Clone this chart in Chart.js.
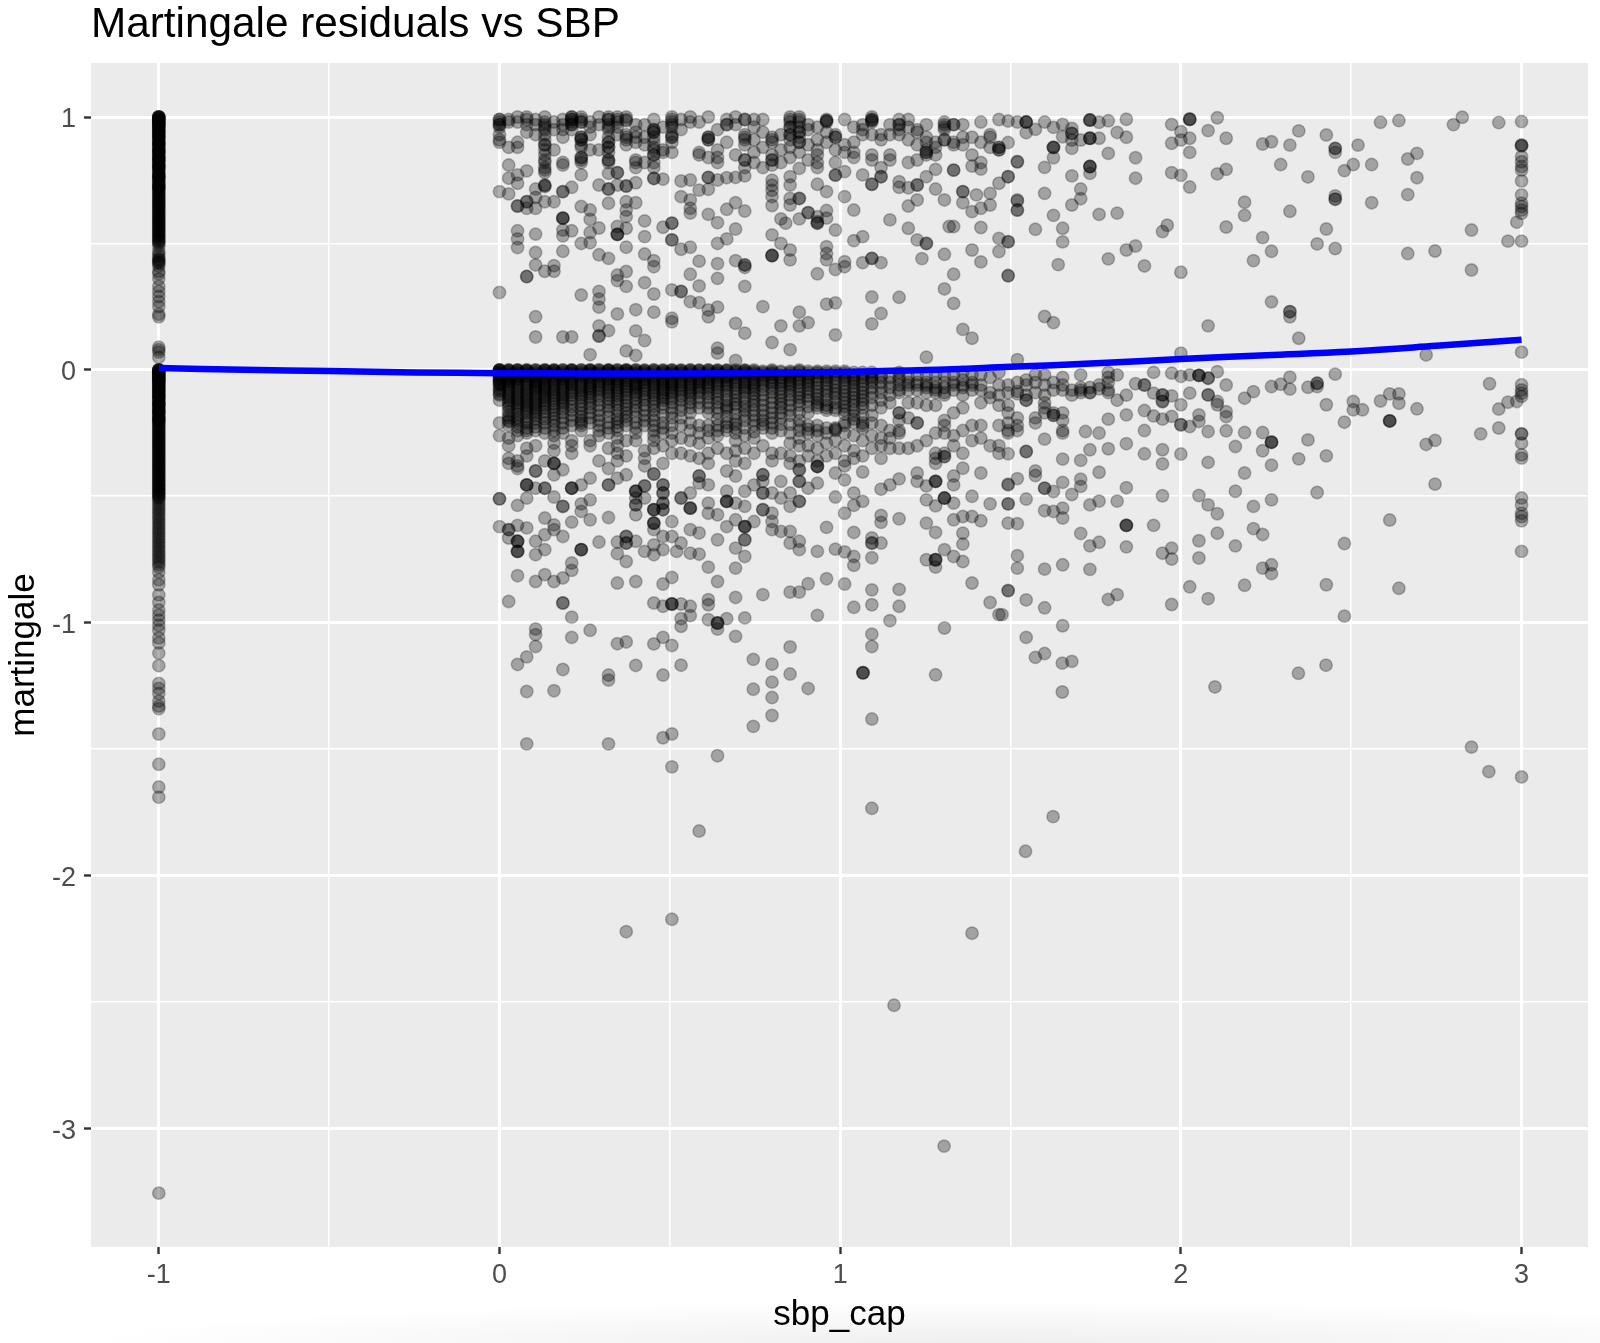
<!DOCTYPE html>
<html>
<head>
<meta charset="utf-8">
<title>Martingale residuals vs SBP</title>
<script src="https://cdn.jsdelivr.net/npm/chart.js@4/dist/chart.umd.min.js"></script>
<style>
  html, body { margin: 0; padding: 0; background: #fff; }
  body { height: 1343px; background: radial-gradient(ellipse 900px 42px at 980px 1343px, #efefef, #ffffff); }
  canvas { display: block; }
</style>
</head>
<body>
<canvas id="chart" width="1600" height="1343"></canvas>
<script>
// ── AXES ──────────────────────────────────────────────────
const xMajor = [-1, 0, 1, 2, 3];
const xMinor = [-0.5, 0.5, 1.5, 2.5];
const yMajor = [-3, -2, -1, 0, 1];
const yMinor = [-2.5, -1.5, -0.5, 0.5];

// ── SMOOTH LINE ───────────────────────────────────────────
const smoothX = [-1, -0.75, -0.5, -0.25, 0, 0.25, 0.5, 0.75, 1, 1.25, 1.5, 1.75, 2, 2.25, 2.5, 2.75, 3];
const smoothY = [0.007, 0, -0.005, -0.01, -0.013, -0.014, -0.014, -0.012, -0.008, -0.001, 0.012, 0.026, 0.043, 0.058, 0.073, 0.095, 0.119];

// ── COLUMN AT sbp_cap = -1 ────────────────────────────────
const capUpper = [1, 1, 1, 0.995, 0.99, 0.985, 0.98, 0.975, 0.97, 0.965, 0.96, 0.95, 0.945, 0.94, 0.93, 0.925, 0.92, 0.91, 0.9, 0.895, 0.89, 0.88, 0.87, 0.865, 0.86, 0.85, 0.84, 0.835, 0.83, 0.82, 0.81, 0.805, 0.8, 0.79, 0.78, 0.77, 0.765, 0.76, 0.75, 0.74, 0.73, 0.725, 0.72, 0.71, 0.7, 0.69, 0.68, 0.67, 0.66, 0.65, 0.64, 0.63, 0.62, 0.61, 0.6, 0.59, 0.58, 0.57, 0.56, 0.55, 0.54, 0.53, 0.52, 0.51, 0.5, 0.49, 0.47, 0.45, 0.44, 0.43, 0.42, 0.41, 0.39, 0.38, 0.36, 0.33, 0.31, 0.29, 0.27, 0.25, 0.22, 0.21, 0.09, 0.08, 0.07, 0.05];
const capUpperTies = [1, 0.998, 0.992, 0.987, 0.982, 0.977, 0.972, 0.967, 0.962, 0.955, 0.948, 0.942, 0.935, 0.928, 0.922, 0.915, 0.905, 0.898, 0.892, 0.885, 0.875, 0.868, 0.862, 0.855, 0.845, 0.838, 0.832, 0.825, 0.815, 0.808, 0.802, 0.795, 0.785, 0.775, 0.768, 0.762, 0.755, 0.745, 0.735, 0.727, 0.722, 0.715, 0.705, 0.695, 0.685, 0.675, 0.665, 0.655, 0.645, 0.635, 0.625, 0.615, 0.605, 0.595, 0.585, 0.575, 0.565, 0.555, 0.545, 0.535, 0.525, 0.515, 0.505, 0.46, 0.435, 0.425];
const capLower = [0, 0, 0, -0.005, -0.01, -0.015, -0.02, -0.025, -0.03, -0.035, -0.04, -0.045, -0.05, -0.06, -0.065, -0.07, -0.08, -0.085, -0.09, -0.1, -0.105, -0.11, -0.12, -0.13, -0.135, -0.14, -0.15, -0.16, -0.165, -0.17, -0.18, -0.19, -0.195, -0.2, -0.21, -0.22, -0.23, -0.24, -0.25, -0.26, -0.27, -0.28, -0.29, -0.3, -0.31, -0.32, -0.33, -0.34, -0.35, -0.36, -0.37, -0.38, -0.39, -0.4, -0.41, -0.42, -0.43, -0.44, -0.45, -0.46, -0.47, -0.48, -0.49, -0.5, -0.51, -0.53, -0.55, -0.57, -0.59, -0.6, -0.62, -0.64, -0.66, -0.67, -0.69, -0.7, -0.72, -0.74, -0.76, -0.78, -0.8, -0.83, -0.85, -0.89, -0.92, -0.95, -0.97, -0.99, -1.01, -1.03, -1.06, -1.08, -1.12, -1.17, -1.24, -1.26, -1.28, -1.31, -1.33, -1.34, -1.44, -1.56, -1.65, -1.69, -3.256];
const capLowerTies = [0, -0.003, -0.008, -0.012, -0.018, -0.023, -0.028, -0.033, -0.038, -0.043, -0.048, -0.055, -0.062, -0.068, -0.075, -0.082, -0.088, -0.095, -0.102, -0.108, -0.115, -0.125, -0.132, -0.138, -0.145, -0.155, -0.162, -0.168, -0.175, -0.185, -0.192, -0.198, -0.205, -0.215, -0.225, -0.235, -0.245, -0.255, -0.265, -0.275, -0.285, -0.295, -0.305, -0.315, -0.325, -0.335, -0.345, -0.355, -0.365, -0.375, -0.385, -0.395, -0.405, -0.415, -0.425, -0.435, -0.445, -0.455, -0.465, -0.475, -0.485, -0.495, -0.505, -0.52, -0.54, -0.56, -0.58, -0.61, -0.63, -0.65, -0.68, -0.71, -0.73, -0.75, -0.77];

// ── COLUMN AT sbp_cap = 3 ─────────────────────────────────
const maxColumn = [0.982, 0.889, 0.889, 0.885, 0.843, 0.823, 0.804, 0.79, 0.747, 0.692, 0.659, 0.646, 0.632, 0.619, 0.509, 0.07, -0.059, -0.079, -0.092, -0.105, -0.253, -0.253, -0.29, -0.336, -0.349, -0.507, -0.534, -0.567, -0.58, -0.597, -0.718, -1.61];

// ── DENSE BAND JUST BELOW ZERO, BY COLUMN ─────────────────
const bandX = [0, 0.027, 0.053, 0.08, 0.106, 0.133, 0.16, 0.186, 0.212, 0.24, 0.266, 0.292, 0.32, 0.346, 0.372, 0.4, 0.426, 0.453, 0.48, 0.506, 0.533, 0.56, 0.586, 0.613, 0.64, 0.667, 0.693, 0.72, 0.747, 0.773, 0.8, 0.826, 0.853, 0.88, 0.906, 0.933, 0.96, 0.986, 1.013, 1.04, 1.066];
const bandY = [
  [0, 0, 0, -0.005, -0.01, -0.015, -0.02, -0.03, -0.04, -0.05, -0.06, -0.07, -0.085, -0.1, -0.12, -0.21, -0.26],
  [0, 0, -0.005, -0.01, -0.02, -0.03, -0.04, -0.05, -0.07, -0.09, -0.11, -0.13, -0.15, -0.18, -0.2, -0.27, -0.3, -0.35, -0.37],
  [0, 0, -0.005, -0.01, -0.02, -0.03, -0.04, -0.06, -0.08, -0.1, -0.12, -0.14, -0.16, -0.19, -0.21, -0.24, -0.26, -0.36, -0.38, -0.39],
  [0, 0, -0.005, -0.01, -0.02, -0.03, -0.05, -0.07, -0.09, -0.11, -0.13, -0.15, -0.17, -0.2, -0.23, -0.25, -0.31, -0.34],
  [0, 0, -0.01, -0.015, -0.025, -0.04, -0.05, -0.065, -0.08, -0.1, -0.12, -0.14, -0.16, -0.18, -0.21, -0.24, -0.3],
  [0, 0, -0.005, -0.015, -0.03, -0.04, -0.06, -0.075, -0.09, -0.11, -0.13, -0.15, -0.18, -0.21, -0.25, -0.36],
  [0, 0, -0.005, -0.01, -0.02, -0.035, -0.05, -0.07, -0.09, -0.11, -0.135, -0.16, -0.19, -0.22, -0.26, -0.29, -0.32],
  [0, 0, -0.01, -0.02, -0.03, -0.04, -0.06, -0.08, -0.1, -0.12, -0.14, -0.17, -0.21, -0.25],
  [0, 0, -0.005, -0.015, -0.03, -0.045, -0.06, -0.08, -0.1, -0.13, -0.16, -0.2, -0.28, -0.3, -0.33],
  [0, 0, -0.01, -0.02, -0.03, -0.05, -0.07, -0.09, -0.11, -0.14, -0.17, -0.2, -0.22, -0.24],
  [0, 0, -0.005, -0.015, -0.025, -0.04, -0.06, -0.075, -0.095, -0.12, -0.15, -0.19, -0.28, -0.3],
  [0, 0, -0.01, -0.02, -0.03, -0.05, -0.07, -0.09, -0.12, -0.16, -0.2, -0.24, -0.36],
  [0, 0, -0.005, -0.015, -0.03, -0.04, -0.06, -0.08, -0.1, -0.13, -0.16, -0.21, -0.25, -0.31, -0.39],
  [0, 0, -0.01, -0.02, -0.035, -0.05, -0.07, -0.09, -0.115, -0.14, -0.18, -0.21, -0.24, -0.27, -0.3, -0.33, -0.36],
  [0, 0, -0.005, -0.015, -0.03, -0.045, -0.065, -0.085, -0.11, -0.14, -0.17, -0.2, -0.28, -0.34],
  [0, 0, -0.01, -0.02, -0.03, -0.05, -0.065, -0.08, -0.1, -0.13, -0.16, -0.21, -0.25, -0.28],
  [0, -0.005, -0.01, -0.02, -0.035, -0.05, -0.07, -0.095, -0.12, -0.16, -0.2, -0.32, -0.35, -0.38],
  [0, 0, -0.01, -0.025, -0.04, -0.06, -0.08, -0.1, -0.13, -0.16, -0.2, -0.24, -0.28, -0.31],
  [0, -0.005, -0.015, -0.03, -0.045, -0.06, -0.08, -0.1, -0.12, -0.15, -0.21, -0.25, -0.3, -0.37],
  [0, 0, -0.01, -0.02, -0.04, -0.055, -0.07, -0.09, -0.115, -0.15, -0.19, -0.25, -0.28, -0.33],
  [0, -0.005, -0.015, -0.03, -0.05, -0.07, -0.09, -0.12, -0.16, -0.22, -0.27, -0.33],
  [0, 0, -0.01, -0.025, -0.04, -0.06, -0.08, -0.1, -0.13, -0.17, -0.24, -0.28, -0.34],
  [0, -0.005, -0.02, -0.035, -0.05, -0.07, -0.09, -0.13, -0.22, -0.25, -0.29, -0.35],
  [0, 0, -0.01, -0.025, -0.04, -0.06, -0.08, -0.11, -0.15, -0.22, -0.24, -0.27, -0.33, -0.37],
  [0, -0.005, -0.015, -0.03, -0.05, -0.07, -0.1, -0.13, -0.17, -0.22, -0.26, -0.31],
  [0, -0.005, -0.02, -0.03, -0.05, -0.07, -0.1, -0.14, -0.16, -0.21, -0.24, -0.33, -0.4],
  [0, -0.01, -0.02, -0.04, -0.06, -0.09, -0.12, -0.15, -0.2, -0.23, -0.28, -0.32, -0.36],
  [0, -0.005, -0.015, -0.03, -0.05, -0.07, -0.09, -0.13, -0.16, -0.2, -0.26, -0.31, -0.37],
  [0, -0.01, -0.02, -0.04, -0.06, -0.08, -0.11, -0.14, -0.18, -0.22, -0.27, -0.33],
  [-0.005, -0.015, -0.03, -0.05, -0.08, -0.12, -0.16, -0.2, -0.23, -0.3],
  [0, -0.01, -0.02, -0.04, -0.06, -0.09, -0.13, -0.17, -0.21, -0.25, -0.33, -0.36],
  [-0.005, -0.02, -0.04, -0.06, -0.09, -0.12, -0.15, -0.19, -0.24, -0.33],
  [-0.005, -0.015, -0.03, -0.05, -0.07, -0.1, -0.14, -0.18, -0.25, -0.29, -0.34],
  [0, -0.01, -0.03, -0.05, -0.08, -0.11, -0.14, -0.2, -0.24, -0.27, -0.3, -0.36],
  [-0.005, -0.02, -0.04, -0.06, -0.09, -0.12, -0.17, -0.22, -0.25, -0.3, -0.34],
  [-0.005, -0.015, -0.04, -0.07, -0.1, -0.13, -0.15, -0.22, -0.26, -0.31, -0.36],
  [-0.005, -0.02, -0.04, -0.07, -0.1, -0.14, -0.16, -0.25, -0.29, -0.34],
  [-0.005, -0.02, -0.05, -0.08, -0.11, -0.15, -0.23, -0.24, -0.28, -0.33],
  [-0.005, -0.02, -0.04, -0.07, -0.1, -0.13, -0.16, -0.22, -0.25, -0.3, -0.36, -0.38],
  [-0.01, -0.03, -0.05, -0.08, -0.11, -0.14, -0.18, -0.21, -0.26, -0.32, -0.35],
  [-0.01, -0.03, -0.06, -0.09, -0.12, -0.15, -0.21, -0.23, -0.28, -0.34]
];
// ties inside the black part of the band, same columns as bandX
const bandTies = [
  [-0.002, -0.012, -0.025, -0.035, -0.045, -0.055, -0.078, -0.095],
  [-0.003, -0.015, -0.025, -0.035, -0.045, -0.06, -0.08, -0.1, -0.12, -0.14, -0.165, -0.19, -0.205, -0.22],
  [-0.002, -0.015, -0.025, -0.035, -0.05, -0.07, -0.09, -0.11, -0.13, -0.15, -0.175, -0.2, -0.225],
  [-0.003, -0.015, -0.025, -0.04, -0.06, -0.08, -0.1, -0.12, -0.14, -0.16, -0.185, -0.21, -0.24],
  [-0.005, -0.02, -0.03, -0.045, -0.058, -0.072, -0.09, -0.11, -0.13, -0.15, -0.17, -0.195, -0.225],
  [-0.002, -0.01, -0.022, -0.035, -0.05, -0.068, -0.083, -0.1, -0.12, -0.14, -0.165, -0.195, -0.23],
  [-0.003, -0.015, -0.028, -0.042, -0.06, -0.08, -0.1, -0.122, -0.148, -0.175, -0.205, -0.24],
  [-0.005, -0.015, -0.025, -0.035, -0.05, -0.07, -0.09, -0.11, -0.13, -0.155, -0.19, -0.23],
  [-0.002, -0.01, -0.022, -0.038, -0.052, -0.07, -0.09, -0.115, -0.145, -0.18, -0.22],
  [-0.005, -0.015, -0.025, -0.04, -0.06, -0.08, -0.1, -0.125, -0.155, -0.185, -0.21],
  [-0.002, -0.01, -0.02, -0.032, -0.05, -0.068, -0.085, -0.108, -0.135, -0.17, -0.21],
  [-0.005, -0.015, -0.025, -0.04, -0.06, -0.08, -0.105, -0.14, -0.18, -0.22, -0.26],
  [-0.002, -0.01, -0.022, -0.035, -0.05, -0.07, -0.09, -0.115, -0.145, -0.185, -0.23],
  [-0.005, -0.015, -0.028, -0.042, -0.06, -0.08, -0.102, -0.128, -0.16, -0.195, -0.225],
  [-0.002, -0.01, -0.022, -0.038, -0.055, -0.075, -0.098, -0.125, -0.155, -0.185, -0.22],
  [-0.005, -0.015, -0.025, -0.04, -0.058, -0.072, -0.09, -0.115, -0.145, -0.185, -0.23],
  [-0.002, -0.015, -0.028, -0.042, -0.06, -0.082, -0.108, -0.14, -0.18, -0.22],
  [-0.005, -0.018, -0.032, -0.05, -0.07, -0.09, -0.115, -0.145, -0.18, -0.22, -0.26],
  [-0.002, -0.01, -0.022, -0.038, -0.052, -0.07, -0.09, -0.11, -0.135, -0.18, -0.23],
  [-0.005, -0.015, -0.03, -0.048, -0.062, -0.08, -0.102, -0.13, -0.17, -0.22],
  [-0.002, -0.01, -0.022, -0.04, -0.06, -0.08, -0.105, -0.14, -0.19],
  [-0.005, -0.018, -0.032, -0.05, -0.07, -0.09, -0.115, -0.15, -0.21],
  [-0.002, -0.012, -0.028, -0.042, -0.06, -0.08, -0.11, -0.15],
  [-0.005, -0.018, -0.032, -0.05, -0.07, -0.095, -0.13, -0.17],
  [-0.002, -0.01, -0.022, -0.04, -0.06, -0.085, -0.115, -0.15, -0.195, -0.24],
  [-0.002, -0.012, -0.025, -0.04, -0.06, -0.085, -0.12, -0.15, -0.185, -0.225],
  [-0.005, -0.015, -0.03, -0.05, -0.075, -0.105, -0.135, -0.175, -0.215, -0.25],
  [-0.002, -0.01, -0.022, -0.04, -0.06, -0.08, -0.11, -0.145, -0.18, -0.23],
  [-0.005, -0.015, -0.03, -0.05, -0.07, -0.095, -0.125, -0.16, -0.2, -0.245],
  [-0.01, -0.022, -0.04, -0.065, -0.1, -0.14, -0.18, -0.215],
  [-0.005, -0.015, -0.03, -0.05, -0.075, -0.11, -0.15, -0.19, -0.23],
  [-0.01, -0.03, -0.05, -0.075, -0.105, -0.135, -0.17, -0.215],
  [-0.01, -0.022, -0.04, -0.06, -0.085, -0.12, -0.16, -0.215],
  [-0.005, -0.02, -0.04, -0.065, -0.095, -0.125, -0.17, -0.22],
  [-0.012, -0.03, -0.05, -0.075, -0.105, -0.145, -0.235],
  [-0.01, -0.028, -0.055, -0.085, -0.115, -0.14, -0.24],
  [-0.012, -0.03, -0.055, -0.085, -0.12, -0.15, -0.23],
  [-0.012, -0.035, -0.065, -0.095, -0.13, -0.16, -0.235],
  [-0.012, -0.03, -0.055, -0.085, -0.115, -0.145, -0.175, -0.21],
  [-0.02, -0.04, -0.065, -0.095, -0.125, -0.16, -0.195],
  [-0.02, -0.045, -0.075, -0.105, -0.135, -0.18, -0.22]
];

// ── TOP BAND NEAR +1, BY COLUMN ───────────────────────────
const topX = [0, 0.027, 0.053, 0.08, 0.106, 0.133, 0.16, 0.186, 0.212, 0.24, 0.266, 0.292, 0.32, 0.346, 0.372, 0.4, 0.426, 0.453, 0.48, 0.506, 0.533, 0.56, 0.586, 0.613, 0.64, 0.667, 0.693, 0.72, 0.747, 0.773, 0.8, 0.826, 0.853, 0.88, 0.906, 0.933, 0.96, 0.986, 1.013, 1.04, 1.066, 1.093, 1.12, 1.146, 1.173, 1.2, 1.226, 1.253, 1.28, 1.306, 1.333, 1.36, 1.387, 1.413, 1.44, 1.466];
const topY = [
  [0.99, 0.98, 0.97, 0.96, 0.93, 0.91, 0.9],
  [0.99, 0.98, 0.88],
  [1, 0.98, 0.9, 0.88],
  [1, 0.97, 0.94],
  [0.99, 0.97, 0.93],
  [1, 0.98, 0.96, 0.93, 0.91, 0.89, 0.87, 0.85, 0.83, 0.8, 0.78, 0.73, 0.725],
  [0.98, 0.95, 0.87],
  [0.99, 0.97, 0.95, 0.92, 0.82, 0.81],
  [1, 0.99, 0.98, 0.97, 0.95],
  [1, 0.98, 0.92, 0.91, 0.89, 0.88, 0.84, 0.83, 0.82],
  [0.98, 0.96, 0.93, 0.87],
  [1, 0.97, 0.87],
  [1, 0.99, 0.97, 0.95, 0.92, 0.9, 0.88, 0.86, 0.83, 0.82],
  [1, 0.98, 0.96, 0.93],
  [1, 0.985, 0.93, 0.91, 0.89],
  [0.97, 0.94, 0.92, 0.9, 0.83, 0.82, 0.8],
  [0.97, 0.92, 0.89, 0.82],
  [0.99, 0.95, 0.94, 0.92, 0.9, 0.87, 0.85, 0.82, 0.8],
  [0.96, 0.87, 0.86],
  [1, 0.98, 0.96, 0.93, 0.92, 0.9, 0.86],
  [0.99, 0.95],
  [1, 0.98],
  [0.98, 0.86, 0.85],
  [1, 0.92, 0.91, 0.84],
  [0.95, 0.87, 0.84, 0.82],
  [0.99, 0.97, 0.9],
  [1, 0.97, 0.85],
  [0.99, 0.93, 0.91, 0.89, 0.83, 0.8],
  [0.99, 0.96, 0.91, 0.86, 0.82],
  [0.99, 0.94, 0.88, 0.8],
  [0.92, 0.9, 0.85, 0.83, 0.81],
  [0.93, 0.87, 0.82],
  [1, 0.98, 0.96, 0.93, 0.91, 0.88, 0.84],
  [1, 0.98, 0.96, 0.94, 0.92, 0.9, 0.86],
  [0.97, 0.95, 0.89, 0.83],
  [0.96, 0.91, 0.87, 0.85, 0.82, 0.8],
  [0.99, 0.98, 0.94, 0.9],
  [0.93, 0.92, 0.87, 0.82],
  [0.99, 0.89, 0.86],
  [0.96, 0.9, 0.86, 0.84],
  [0.97, 0.95, 0.93],
  [1, 0.99, 0.98, 0.93, 0.85, 0.83],
  [0.93, 0.91, 0.8],
  [0.97, 0.93, 0.85, 0.83],
  [0.97, 0.95, 0.93],
  [0.99, 0.96, 0.91, 0.82],
  [0.94, 0.89, 0.83],
  [0.97, 0.92, 0.9, 0.86, 0.85],
  [0.9, 0.88, 0.85],
  [0.98, 0.96, 0.91],
  [0.97, 0.9, 0.89, 0.79],
  [0.97, 0.92, 0.89],
  [0.92, 0.85],
  [0.98, 0.9, 0.82],
  [0.92, 0.93, 0.88],
  [0.99, 0.88, 0.87]
];
// darker spots in the top band, where several points coincide
const topTies = [[0,0.99],[0,0.97],[0.133,0.97],[0.133,0.95],[0.133,0.89],[0.133,0.82],[0.133,0.79],[0.133,0.73],[0.08,0.99],[0.212,0.99],[0.212,0.97],[0.212,1],[0.24,0.99],[0.24,0.98],[0.24,0.91],[0.24,0.92],[0.24,0.84],[0.32,0.99],[0.32,0.96],[0.32,0.9],[0.32,0.88],[0.32,0.83],[0.346,0.99],[0.372,0.99],[0.372,0.92],[0.453,0.95],[0.453,0.94],[0.453,0.88],[0.453,0.85],[0.506,0.99],[0.506,0.97],[0.506,0.92],[0.613,0.92],[0.613,0.91],[0.667,0.97],[0.72,0.99],[0.72,0.92],[0.72,0.83],[0.8,0.91],[0.8,0.83],[0.853,0.99],[0.853,0.96],[0.853,0.93],[0.88,0.99],[0.88,0.94],[0.88,0.9],[0.96,0.985],[0.96,0.985],[0.986,0.92],[1.093,0.99],[1.093,0.985],[1.173,0.97],[1.173,0.99],[1.253,0.87],[1.253,0.86],[1.226,0.95],[1.306,0.97],[1.306,0.95],[1.306,0.91],[1.333,0.97],[1.466,0.88],[1.466,0.87]];

// ── UPPER SCATTER, 0 < residual < 0.8 ─────────────────────
const upperLeft = [[0.266,0.06],[0.372,0.075],[0.4,0.057],[0.64,0.086],[0.64,0.066],[0.693,0.037],[0.106,0.13],[0.186,0.13],[0.212,0.13],[0.292,0.134],[0.292,0.174],[0.292,0.134],[0.32,0.155],[0.4,0.154],[0.426,0.116],[0.693,0.184],[0.72,0.145],[0.8,0.108],[0.853,0.08],[0.826,0.174],[0.88,0.174],[0.88,0.228],[0.906,0.187],[0.986,0.138],[0.106,0.21],[0.346,0.221],[0.4,0.238],[0.453,0.228],[0.506,0.204],[0.506,0.19],[0.613,0.21],[0.613,0.237],[0.64,0.248],[0.586,0.266],[0.56,0.27],[0.773,0.25],[0.96,0.26],[0.986,0.265],[0,0.306],[0.24,0.296],[0.292,0.31],[0.292,0.28],[0.292,0.248],[0.453,0.3],[0.506,0.316],[0.533,0.31],[0.533,0.31],[0.426,0.345],[0.372,0.33],[0.346,0.353],[0.346,0.375],[0.372,0.389],[0.56,0.378],[0.586,0.332],[0.64,0.362],[0.72,0.33],[0.08,0.369],[0.08,0.369],[0.133,0.39],[0.16,0.39],[0.16,0.412],[0.106,0.415],[0.453,0.408],[0.453,0.432],[0.426,0.458],[0.586,0.43],[0.64,0.42],[0.693,0.432],[0.72,0.415],[0.72,0.415],[0.72,0.405],[0.8,0.452],[0.8,0.452],[0.8,0.452],[0.853,0.435],[0.853,0.474],[0.933,0.38],[0.986,0.397],[1.013,0.408],[1.013,0.428],[0.96,0.487],[0.96,0.46],[0.96,0.435]];
const upperMid = [[0.053,0.484],[0.053,0.518],[0.053,0.55],[0.106,0.537],[0.106,0.464],[0.186,0.469],[0.186,0.53],[0.186,0.553],[0.212,0.55],[0.186,0.6],[0.186,0.6],[0.186,0.6],[0.24,0.5],[0.266,0.503],[0.266,0.543],[0.292,0.561],[0.266,0.595],[0.266,0.632],[0.24,0.646],[0.292,0.455],[0.32,0.441],[0.346,0.536],[0.346,0.536],[0.346,0.536],[0.346,0.567],[0.372,0.56],[0.372,0.485],[0.372,0.606],[0.372,0.632],[0.372,0.665],[0.4,0.661],[0.426,0.589],[0.426,0.527],[0.48,0.564],[0.506,0.58],[0.506,0.58],[0.506,0.514],[0.506,0.514],[0.533,0.477],[0.56,0.485],[0.56,0.62],[0.56,0.639],[0.56,0.672],[0.533,0.685],[0.613,0.615],[0.64,0.582],[0.667,0.635],[0.693,0.661],[0.72,0.628],[0.693,0.557],[0.667,0.518],[0.64,0.5],[0.8,0.534],[0.826,0.5],[0.826,0.597],[0.84,0.58],[0.88,0.597],[0.906,0.622],[0.906,0.622],[0.933,0.606],[0.933,0.586],[0.933,0.58],[0.933,0.58],[0.96,0.63],[0.96,0.6],[0.986,0.553],[1.04,0.632],[1.013,0.685],[1.04,0.511],[1.066,0.527]];
const upperHigh = [[0,0.705],[0.027,0.696],[0.027,0.758],[0.027,0.81],[0.053,0.738],[0.053,0.771],[0.053,0.648],[0.053,0.648],[0.08,0.665],[0.08,0.665],[0.08,0.639],[0.08,0.787],[0.106,0.639],[0.106,0.682],[0.106,0.715],[0.133,0.665],[0.16,0.665],[0.186,0.705],[0.186,0.705],[0.212,0.722],[0.24,0.771],[0.32,0.659],[0.32,0.715],[0.32,0.715],[0.292,0.731],[0.346,0.731],[0.346,0.78],[0.346,0.78],[0.32,0.777],[0.372,0.727],[0.372,0.727],[0.4,0.74],[0.453,0.757],[0.453,0.757],[0.48,0.754],[0.533,0.747],[0.56,0.751],[0.586,0.711],[0.613,0.714],[0.613,0.761],[0.613,0.761],[0.64,0.751],[0.667,0.76],[0.693,0.761],[0.72,0.767],[0.8,0.75],[0.8,0.73],[0.8,0.71],[0.8,0.685],[0.8,0.65],[0.853,0.764],[0.853,0.731],[0.853,0.678],[0.853,0.652],[0.88,0.678],[0.88,0.678],[0.88,0.797],[0.933,0.734],[0.96,0.705],[0.986,0.77],[0.986,0.77],[1.013,0.784],[1.066,0.771],[1.093,0.734],[1.093,0.734],[1.12,0.764],[1.12,0.764],[1.173,0.744],[1.173,0.722],[1.2,0.72],[1.226,0.731],[1.226,0.731],[1.253,0.764],[1.28,0.793],[1.333,0.79],[1.413,0.794],[1.387,0.806]];
const upperRightNear = [[1.093,0.182],[1.12,0.223],[1.36,0.16],[1.387,0.125],[1.253,0.05],[1.093,0.288],[1.173,0.287],[1.333,0.263],[1.306,0.32],[1.066,0.424],[1.093,0.441],[1.093,0.441],[1.12,0.424],[1.24,0.44],[1.306,0.457],[1.333,0.378],[1.387,0.474],[1.413,0.427],[1.466,0.468],[1.493,0.373],[1.466,0.52],[1.493,0.507],[1.146,0.593],[1.2,0.56],[1.2,0.648],[1.226,0.672],[1.226,0.514],[1.253,0.5],[1.253,0.5],[1.306,0.672],[1.28,0.715],[1.32,0.567],[1.333,0.567],[1.36,0.705],[1.36,0.705],[1.36,0.661],[1.387,0.626],[1.4,0.692],[1.413,0.639],[1.44,0.652],[1.44,0.698],[1.413,0.563],[1.466,0.738],[1.493,0.764],[1.52,0.672],[1.52,0.632],[1.52,0.823]];
const upperRightFar = [[1.493,0.984],[1.52,0.98],[1.546,0.98],[1.546,0.98],[1.546,0.98],[1.546,0.938],[1.573,0.951],[1.6,0.98],[1.626,0.959],[1.653,0.971],[1.653,0.922],[1.68,0.955],[1.68,0.935],[1.68,0.935],[1.68,0.909],[1.68,0.876],[1.706,0.909],[1.733,0.988],[1.733,0.988],[1.733,0.988],[1.733,0.916],[1.733,0.916],[1.733,0.916],[1.76,0.979],[1.76,0.916],[1.787,0.985],[1.813,0.939],[1.84,0.991],[1.84,0.92],[1.626,0.88],[1.626,0.88],[1.626,0.88],[1.626,0.839],[1.787,0.856],[1.867,0.839],[1.493,0.899],[1.52,0.823],[1.6,0.801],[1.493,0.764],[1.733,0.804],[1.733,0.804],[1.733,0.804],[1.733,0.777],[1.68,0.767],[1.867,0.758],[1.6,0.698],[1.52,0.668],[1.52,0.632],[1.706,0.715],[1.706,0.677],[1.68,0.652],[1.626,0.611],[1.76,0.615],[1.813,0.62],[1.573,0.556],[1.653,0.56],[1.653,0.506],[1.493,0.506],[1.84,0.474],[1.867,0.49],[1.787,0.439],[1.64,0.416],[1.893,0.411],[1.493,0.372],[1.6,0.211],[1.626,0.187],[1.52,0.04],[1.946,0.547],[1.96,0.572],[1.973,0.971],[1.973,0.896],[2,0.942],[2,0.909],[2.026,0.991],[2.026,0.991],[2.026,0.991],[2.026,0.916],[2.026,0.86],[1.973,0.78],[2,0.769],[2.026,0.723],[2.08,0.946],[2.107,0.997],[2.133,0.916],[2.107,0.775],[2.133,0.793],[2.133,0.565],[2,0.386],[2.08,0.174],[2,0.066],[2.187,0.663],[2.187,0.611],[2.24,0.893],[2.266,0.902],[2.32,0.889],[2.346,0.945],[2.293,0.812],[2.373,0.763],[2.427,0.929],[2.453,0.876],[2.453,0.876],[2.453,0.86],[2.52,0.889],[2.48,0.788],[2.506,0.812],[2.56,0.812],[2.453,0.675],[2.453,0.675],[2.453,0.688],[2.56,0.661],[2.32,0.627],[2.24,0.523],[2.266,0.469],[2.213,0.432],[2.427,0.557],[2.4,0.498],[2.453,0.48],[2.266,0.269],[2.32,0.23],[2.32,0.23],[2.32,0.21],[2.346,0.125],[2.586,0.979],[2.64,0.986],[2.666,0.834],[2.693,0.856],[2.693,0.76],[2.666,0.693],[2.666,0.46],[2.746,0.47],[2.853,0.553],[2.853,0.395],[2.72,0.059],[2.8,0.97],[2.826,0.999],[2.933,0.978],[2.96,0.509],[2.986,0.584]];

// ── LOWER SCATTER, residual below the band ────────────────
const lowerLeft = [[0,-0.51],[0,-0.51],[0,-0.62],[0.053,-0.536],[0.08,-0.507],[0.08,-0.455],[0.08,-0.455],[0.08,-0.455],[0.106,-0.4],[0.106,-0.4],[0.106,-0.468],[0.133,-0.468],[0.133,-0.468],[0.16,-0.415],[0.16,-0.37],[0.16,-0.37],[0.16,-0.37],[0.16,-0.503],[0.186,-0.395],[0.186,-0.54],[0.186,-0.54],[0.212,-0.468],[0.212,-0.468],[0.212,-0.468],[0.24,-0.455],[0.24,-0.53],[0.24,-0.56],[0.266,-0.428],[0.266,-0.514],[0.133,-0.586],[0.16,-0.613],[0.16,-0.632],[0.212,-0.602],[0.266,-0.593],[0.32,-0.455],[0.32,-0.455],[0.32,-0.584],[0.346,-0.428],[0.372,-0.415],[0.4,-0.48],[0.4,-0.48],[0.4,-0.48],[0.4,-0.507],[0.4,-0.534],[0.4,-0.534],[0.4,-0.573],[0.426,-0.459],[0.426,-0.459],[0.426,-0.507],[0.453,-0.412],[0.453,-0.412],[0.453,-0.553],[0.453,-0.553],[0.453,-0.553],[0.453,-0.606],[0.453,-0.606],[0.453,-0.606],[0.453,-0.632],[0.48,-0.455],[0.48,-0.455],[0.48,-0.487],[0.48,-0.487],[0.48,-0.527],[0.48,-0.527],[0.48,-0.553],[0.48,-0.553],[0.506,-0.6],[0.533,-0.507],[0.533,-0.507],[0.56,-0.547],[0.56,-0.547],[0.56,-0.547],[0.56,-0.487],[0.56,-0.632],[0.586,-0.645],[0.586,-0.42],[0.586,-0.42],[0.586,-0.448],[0.613,-0.455],[0.613,-0.527],[0.613,-0.567],[0.64,-0.573],[0.64,-0.672],[0.667,-0.48],[0.667,-0.52],[0.667,-0.52],[0.667,-0.52],[0.667,-0.62],[0.693,-0.42],[0.693,-0.527],[0.693,-0.593],[0.72,-0.48],[0.72,-0.54],[0.72,-0.62],[0.72,-0.62],[0.72,-0.62],[0.72,-0.672],[0.72,-0.672],[0.72,-0.738],[0.693,-0.705],[0.693,-0.784],[0.747,-0.455],[0.747,-0.6]];
const lowerMid = [[0.773,-0.415],[0.773,-0.415],[0.773,-0.441],[0.773,-0.487],[0.773,-0.487],[0.773,-0.553],[0.773,-0.553],[0.8,-0.487],[0.8,-0.567],[0.8,-0.6],[0.8,-0.632],[0.826,-0.441],[0.826,-0.507],[0.826,-0.639],[0.853,-0.37],[0.853,-0.487],[0.853,-0.54],[0.853,-0.639],[0.853,-0.685],[0.88,-0.395],[0.88,-0.395],[0.88,-0.441],[0.88,-0.441],[0.88,-0.52],[0.88,-0.52],[0.88,-0.678],[0.88,-0.711],[0.906,-0.468],[0.933,-0.382],[0.933,-0.382],[0.933,-0.382],[0.933,-0.448],[0.933,-0.718],[0.96,-0.623],[0.986,-0.408],[0.986,-0.503],[0.986,-0.709],[1.013,-0.435],[1.013,-0.567],[1.013,-0.72],[1.04,-0.487],[1.04,-0.536],[1.04,-0.643],[1.04,-0.738],[1.04,-0.773],[1.066,-0.404],[1.066,-0.52],[1.093,-0.665],[1.093,-0.685],[1.093,-0.685],[1.093,-0.743],[1.12,-0.472],[1.12,-0.576],[1.12,-0.603],[1.12,-0.685],[1.146,-0.455],[1.173,-0.431],[1.173,-0.589],[1.226,-0.408],[1.226,-0.441],[1.253,-0.459],[1.253,-0.514],[1.253,-0.606],[1.253,-0.751],[1.28,-0.441],[1.28,-0.441],[1.28,-0.441],[1.28,-0.538],[1.28,-0.643],[1.28,-0.751],[1.28,-0.751],[1.28,-0.751],[1.28,-0.78],[1.306,-0.343],[1.306,-0.343],[1.306,-0.507],[1.306,-0.507],[1.306,-0.507],[1.306,-0.711],[1.333,-0.455],[1.333,-0.42],[1.333,-0.527],[1.333,-0.593],[1.333,-0.738],[1.36,-0.389],[1.36,-0.646],[1.36,-0.689],[1.36,-0.758],[1.36,-0.58],[1.387,-0.5],[1.387,-0.58],[1.413,-0.408],[1.413,-0.597],[1.44,-0.53],[1.493,-0.455],[1.493,-0.53],[1.493,-0.606],[1.493,-0.872],[1.387,-0.843],[1.44,-0.92],[1.466,-0.968]];
const lowerBottomRow = [[0.027,-0.632],[0.027,-0.632],[0.027,-0.665],[0.053,-0.615],[0.053,-0.678],[0.053,-0.678],[0.053,-0.678],[0.053,-0.718],[0.053,-0.718],[0.053,-0.718],[0.08,-0.625],[0.106,-0.678],[0.106,-0.731],[0.133,-0.652],[0.133,-0.711],[0.186,-0.659],[0.212,-0.764],[0.212,-0.793],[0.24,-0.711],[0.24,-0.711],[0.24,-0.711],[0.292,-0.681],[0.346,-0.681],[0.346,-0.727],[0.372,-0.659],[0.372,-0.659],[0.372,-0.685],[0.372,-0.685],[0.372,-0.758],[0.4,-0.678],[0.426,-0.718],[0.453,-0.692],[0.453,-0.731],[0.48,-0.659],[0.48,-0.711],[0.506,-0.659],[0.533,-0.685],[0.52,-0.718],[0.56,-0.725],[0.586,-0.729],[0.613,-0.78],[0.053,-0.814],[0.106,-0.837],[0.133,-0.81],[0.16,-0.837],[0.186,-0.823],[0.346,-0.843],[0.4,-0.837],[0.48,-0.847],[0.506,-0.821],[0.64,-0.837],[0.906,-0.846],[0.96,-0.826],[0.853,-0.879],[0.88,-0.879],[0.773,-0.889],[0.693,-0.9],[0.613,-0.909],[0.613,-0.929],[0.453,-0.922],[0.48,-0.935],[0.506,-0.926],[0.506,-0.926],[0.506,-0.926],[0.533,-0.926],[0.56,-0.935],[0.56,-0.972],[0.533,-0.984],[0.533,-1.014],[0.613,-0.988],[0.64,-1.001],[0.64,-1.001],[0.64,-1.001],[0.64,-1.025],[0.667,-0.984],[0.72,-0.981],[0.693,-1.054],[0.027,-0.916],[0.186,-0.922],[0.186,-0.922],[0.212,-0.978],[0.106,-1.025],[0.106,-1.047],[0.106,-1.094],[0.266,-1.03],[0.212,-1.058],[0.346,-1.083],[0.372,-1.076],[0.453,-1.084],[0.48,-1.058],[0.506,-1.09],[0.853,-1.096],[1.013,-0.847],[1.093,-0.87],[1.093,-0.929],[1.173,-0.868],[1.173,-0.935],[1.04,-0.939],[0.933,-0.971],[1.146,-0.992],[1.306,-1.021],[1.093,-1.045],[1.093,-1.094]];
const lowerTail = [[0.053,-1.165],[0.08,-1.135],[0.186,-1.185],[0.32,-1.207],[0.32,-1.227],[0.4,-1.169],[0.48,-1.207],[0.533,-1.168],[0.745,-1.145],[0.8,-1.164],[0.853,-1.203],[0.8,-1.235],[0.745,-1.263],[0.8,-1.296],[0.906,-1.26],[0.8,-1.367],[0.745,-1.41],[1.067,-1.198],[1.067,-1.198],[1.067,-1.198],[1.28,-1.206],[1.093,-1.381],[0.08,-1.272],[0.16,-1.269],[0.08,-1.479],[0.32,-1.479],[0.48,-1.455],[0.506,-1.44],[0.506,-1.57],[0.64,-1.526],[1.093,-1.734],[0.586,-1.824],[0.372,-2.222],[0.506,-2.173],[1.387,-2.228],[1.544,-1.904],[1.625,-1.767],[1.158,-2.513],[1.305,-3.07],[2.853,-1.492],[2.904,-1.589],[2.1,-1.254],[2.345,-1.2],[2.426,-1.168],[1.652,-1.16],[1.652,-1.274]];
const lowerRight = [[1.92,-0.01],[1.973,-0.013],[2,-0.026],[2.026,-0.02],[2.053,-0.022],[2.053,-0.022],[2.053,-0.022],[2.08,-0.033],[2.08,-0.033],[2.107,-0.007],[2.133,-0.06],[2.213,-0.086],[2.187,-0.112],[2.266,-0.066],[2.293,-0.057],[2.32,-0.029],[2.32,-0.076],[2.373,-0.069],[2.4,-0.053],[2.4,-0.053],[2.4,-0.066],[2.453,-0.017],[2.427,-0.138],[2.506,-0.125],[2.506,-0.158],[2.533,-0.158],[2.48,-0.207],[2.586,-0.123],[2.613,-0.095],[2.64,-0.095],[2.64,-0.132],[2.613,-0.202],[2.613,-0.202],[2.613,-0.202],[2.693,-0.154],[2.906,-0.055],[2.933,-0.155],[2.96,-0.128],[2.986,-0.125],[2.933,-0.23],[2.88,-0.253],[2.746,-0.279],[2.72,-0.295],[2.746,-0.452],[2.373,-0.277],[2.346,-0.352],[2.427,-0.34],[2.266,-0.286],[2.266,-0.286],[2.266,-0.286],[2.24,-0.248],[2.24,-0.32],[2.266,-0.377],[2.187,-0.248],[2.16,-0.303],[2.187,-0.408],[2.16,-0.48],[2.4,-0.485],[2.266,-0.514],[2.213,-0.54],[2.213,-0.628],[2.24,-0.651],[2.16,-0.696],[2.107,-0.646],[2.053,-0.676],[2.053,-0.744],[2.107,-0.569],[2.08,-0.534],[2.053,-0.497],[1.946,-0.498],[1.92,-0.615],[1.84,-0.615],[1.84,-0.615],[1.84,-0.615],[1.84,-0.7],[1.973,-0.705],[1.946,-0.725],[1.973,-0.748],[2.24,-0.784],[2.266,-0.771],[2.266,-0.806],[2.48,-0.687],[2.613,-0.594],[2.187,-0.852],[2.026,-0.858],[2.08,-0.905],[1.973,-0.928],[2.427,-0.85],[2.64,-0.864],[2.48,-0.974]];
const lowerCentre = [[1.893,-0.06],[1.893,-0.06],[1.867,-0.055],[1.92,-0.092],[1.946,-0.099],[1.946,-0.099],[1.946,-0.125],[1.946,-0.125],[1.973,-0.103],[2,-0.138],[2.026,-0.092],[2.08,-0.099],[2.08,-0.099],[2.107,-0.125],[2.107,-0.138],[2.133,-0.165],[2.133,-0.185],[2.053,-0.178],[2.053,-0.204],[2.026,-0.224],[2,-0.217],[2,-0.217],[1.973,-0.184],[1.946,-0.195],[1.92,-0.182],[1.893,-0.161],[1.893,-0.24],[2.08,-0.244],[2.133,-0.241],[1.84,-0.178],[1.787,-0.195],[1.84,-0.292],[1.787,-0.312],[1.733,-0.316],[1.76,-0.25],[1.72,-0.244],[1.893,-0.332],[1.946,-0.316],[1.946,-0.372],[2,-0.333],[2.08,-0.366],[1.76,-0.405],[1.706,-0.358],[1.653,-0.353],[1.6,-0.274],[1.546,-0.323],[1.546,-0.323],[1.493,-0.332],[1.573,-0.4],[1.573,-0.418],[1.52,-0.43],[1.493,-0.452],[1.653,-0.445],[1.706,-0.432],[1.706,-0.461],[1.6,-0.468],[1.6,-0.468],[1.626,-0.481],[1.68,-0.493],[1.84,-0.466],[1.546,-0.511],[1.493,-0.53],[1.76,-0.519],[1.733,-0.534],[1.813,-0.519],[1.6,-0.557],[1.626,-0.56],[1.653,-0.547],[1.653,-0.586],[1.52,-0.608],[1.706,-0.647],[1.733,-0.696],[1.76,-0.682],[1.52,-0.735],[1.52,-0.784],[1.6,-0.788],[1.653,-0.771],[1.733,-0.789],[1.493,-0.874],[1.546,-0.91],[1.6,-0.941],[1.787,-0.908],[1.813,-0.889],[1.475,-0.968],[1.653,-1.012],[1.546,-1.058],[1.6,-1.122],[1.573,-1.137],[1.68,-1.153]];

// ── THINNER BAND RIGHT OF x = 1.08, BY COLUMN ─────────────
const fadeX = [1.093, 1.12, 1.146, 1.173, 1.2, 1.226, 1.253, 1.28, 1.306, 1.333, 1.36, 1.387, 1.413, 1.44, 1.466, 1.493, 1.52, 1.546, 1.573, 1.6, 1.626, 1.653, 1.68, 1.706, 1.733, 1.76, 1.787, 1.813, 1.84];
const fadeY = [
  [-0.01, -0.03, -0.05, -0.09, -0.14, -0.21, -0.26, -0.31, -0.02, -0.04, -0.07, -0.11, -0.18],
  [-0.02, -0.05, -0.09, -0.15, -0.22, -0.27, -0.3, -0.35, -0.03, -0.07, -0.12],
  [-0.03, -0.07, -0.13, -0.24, -0.27, -0.31, -0.05, -0.1],
  [-0.01, -0.03, -0.06, -0.09, -0.17, -0.2, -0.24, -0.25, -0.31, -0.04, -0.08, -0.17],
  [-0.03, -0.06, -0.08, -0.13, -0.19, -0.31, -0.05],
  [-0.02, -0.05, -0.08, -0.13, -0.21, -0.21, -0.3, -0.06],
  [-0.02, -0.05, -0.07, -0.09, -0.14, -0.28, -0.06],
  [-0.02, -0.05, -0.07, -0.09, -0.14, -0.25, -0.33, -0.37, -0.35, -0.08],
  [-0.02, -0.05, -0.09, -0.1, -0.2, -0.22, -0.25, -0.33, -0.07],
  [-0.02, -0.05, -0.08, -0.17, -0.26, -0.3, -0.06],
  [-0.01, -0.04, -0.07, -0.1, -0.15, -0.24, -0.33, -0.06],
  [-0.02, -0.05, -0.08, -0.22, -0.28, -0.06],
  [-0.02, -0.06, -0.08, -0.13, -0.22, -0.27],
  [-0.03, -0.09, -0.11, -0.3],
  [-0.01, -0.06, -0.1, -0.14, -0.22, -0.3, -0.33],
  [-0.06, -0.09, -0.14, -0.17, -0.21, -0.24, -0.25],
  [-0.05, -0.085, -0.095, -0.19, -0.22, -0.24],
  [-0.04, -0.06, -0.1, -0.12, -0.12],
  [-0.02, -0.05, -0.09, -0.19, -0.21],
  [-0.02, -0.06, -0.1, -0.13, -0.15, -0.17],
  [-0.05, -0.08, -0.17, -0.18, -0.18],
  [-0.03, -0.06, -0.08, -0.17, -0.2, -0.24, -0.25],
  [-0.08, -0.1],
  [-0.02, -0.07, -0.08, -0.09],
  [-0.07, -0.09, -0.09],
  [-0.06, -0.075],
  [-0.01, -0.03, -0.05, -0.08, -0.09],
  [-0.02, -0.12],
  [-0.1]
];

// ── BUILD POINTS ──────────────────────────────────────────
const columnPoints = (xs, ys) => xs.flatMap((x, i) => ys[i].map(y => ({ x, y })));
const pairPoints = list => list.map(p => ({ x: p[0], y: p[1] }));

const scatterPoints = [
  ...capUpper.map(y => ({ x: -1, y })),
  ...capUpperTies.map(y => ({ x: -1, y })),
  ...capLower.map(y => ({ x: -1, y })),
  ...capLowerTies.map(y => ({ x: -1, y })),
  ...maxColumn.map(y => ({ x: 3, y })),
  ...columnPoints(bandX, bandY),
  ...columnPoints(bandX, bandTies),
  ...columnPoints(fadeX, fadeY),
  ...columnPoints(topX, topY),
  ...pairPoints(topTies),
  ...pairPoints(upperLeft),
  ...pairPoints(upperMid),
  ...pairPoints(upperHigh),
  ...pairPoints(upperRightNear),
  ...pairPoints(upperRightFar),
  ...pairPoints(lowerLeft),
  ...pairPoints(lowerMid),
  ...pairPoints(lowerBottomRow),
  ...pairPoints(lowerTail),
  ...pairPoints(lowerRight),
  ...pairPoints(lowerCentre)
];

const PANEL_LEFT = 91;
const PANEL_BOTTOM_SPACE = 96;

const panelBackground = {
  id: 'panelBackground',
  beforeDraw(chart) {
    const { ctx, chartArea: a } = chart;
    ctx.save();
    ctx.fillStyle = '#EBEBEB';
    ctx.fillRect(a.left, a.top, a.right - a.left, a.bottom - a.top);
    ctx.restore();
  }
};

// major and minor lines differ only by their width; minor ones get no tick mark
function axisGrid(major) {
  return {
    color: '#FFFFFF',
    lineWidth: ctx => major.includes(ctx.tick.value) ? 3 : 1.6,
    drawTicks: true,
    tickLength: 7,
    tickColor: ctx => major.includes(ctx.tick.value) ? '#333333' : 'rgba(0,0,0,0)',
    tickWidth: 2.4
  };
}

new Chart(document.getElementById('chart'), {
  type: 'scatter',
  data: {
    datasets: [
      {
        label: 'martingale',
        data: scatterPoints,
        backgroundColor: 'rgba(0,0,0,0.31)',
        borderColor: 'rgba(0,0,0,0.25)',
        borderWidth: 1.5,
        pointRadius: 6.2,
        order: 2
      },
      {
        type: 'line',
        label: 'smooth',
        data: smoothX.map((x, i) => ({ x, y: smoothY[i] })),
        borderColor: '#0000FF',
        borderWidth: 6.5,
        pointRadius: 0,
        tension: 0.4,
        fill: false,
        order: 1
      }
    ]
  },
  plugins: [panelBackground],
  options: {
    responsive: false,
    animation: false,
    layout: { padding: { top: 0, right: 12, bottom: 0, left: 0 } },
    plugins: {
      legend: { display: false },
      tooltip: { enabled: false },
      title: {
        display: true,
        text: 'Martingale residuals vs SBP',
        align: 'start',
        fullSize: false,
        color: '#000000',
        font: { family: '"Liberation Sans", Arial, sans-serif', size: 42.3, weight: 'normal', lineHeight: 1 },
        padding: { top: 4, bottom: 16.7 }
      }
    },
    scales: {
      x: {
        type: 'linear',
        min: -1.199,
        max: 3.195,
        afterBuildTicks: s => { s.ticks = [...xMajor, ...xMinor].map(value => ({ value })); },
        afterFit: s => { s.height = PANEL_BOTTOM_SPACE; },
        border: { display: false },
        grid: axisGrid(xMajor),
        ticks: {
          autoSkip: false,
          maxRotation: 0,
          padding: 5,
          color: '#4D4D4D',
          font: { family: '"Liberation Sans", Arial, sans-serif', size: 27 },
          callback: v => xMajor.includes(v) ? String(v) : ''
        },
        title: {
          display: true,
          text: 'sbp_cap',
          color: '#000000',
          font: { family: '"Liberation Sans", Arial, sans-serif', size: 35 },
          padding: { top: 0, bottom: 7 }
        }
      },
      y: {
        type: 'linear',
        min: -3.469,
        max: 1.2136,
        afterBuildTicks: s => { s.ticks = [...yMajor, ...yMinor].map(value => ({ value })); },
        afterFit: s => { s.width = PANEL_LEFT; },
        border: { display: false },
        grid: axisGrid(yMajor),
        ticks: {
          autoSkip: false,
          padding: 8,
          color: '#4D4D4D',
          // two lines with a short line height push the label down a little
          font: { family: '"Liberation Sans", Arial, sans-serif', size: 27, lineHeight: 0.22 },
          callback: v => yMajor.includes(v) ? ['', String(v)] : ''
        },
        title: {
          display: true,
          text: 'martingale',
          color: '#000000',
          font: { family: '"Liberation Sans", Arial, sans-serif', size: 35 },
          padding: { top: 3, bottom: 0 }
        }
      }
    }
  }
});
</script>
</body>
</html>
